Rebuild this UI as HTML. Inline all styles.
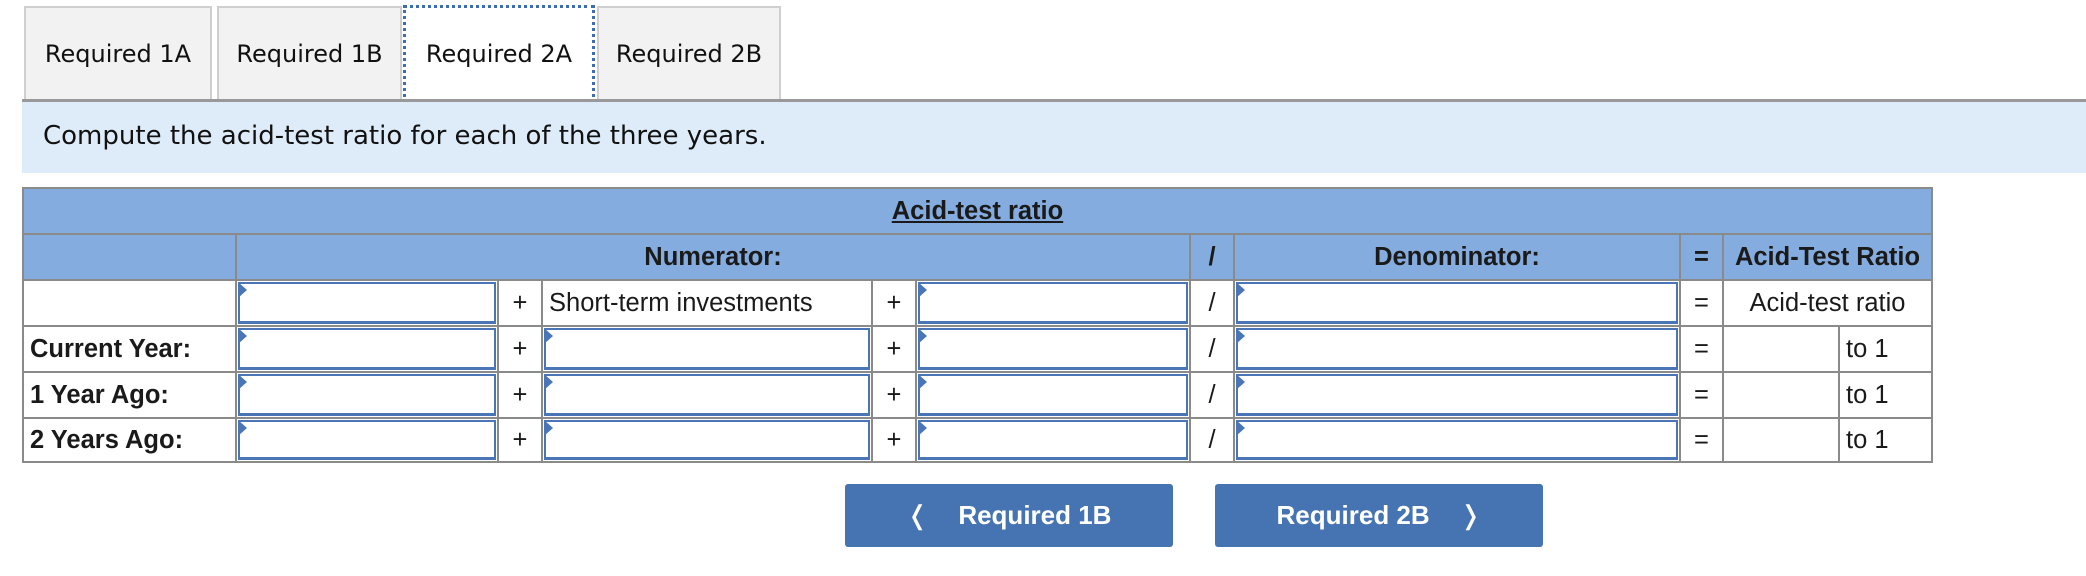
<!DOCTYPE html>
<html><head><meta charset="utf-8">
<style>
*{margin:0;padding:0;box-sizing:border-box}
body{width:2086px;height:576px;background:#fff;position:relative;overflow:hidden;font-family:"Liberation Sans",Arial,sans-serif;color:#1a1a1a}
.a{position:absolute}
.tab{position:absolute;top:6px;height:94px;background:#f2f2f2;border:2px solid #cfcfcf;border-bottom:none;font-family:"DejaVu Sans",Verdana,sans-serif;font-size:24px;display:flex;align-items:center;justify-content:center;color:#111;white-space:nowrap}
.c{position:absolute;background:#fff;font-size:25.5px;display:flex;align-items:center;white-space:nowrap}
.h{background:#84acde;font-weight:bold;justify-content:center}
.ctr{justify-content:center}
.inp{position:absolute;left:1px;top:1px;right:1px;bottom:1px;border:2px solid #4a76b7;border-bottom-width:3px;background:#fff}
.inp:before{content:"";position:absolute;left:-2px;top:-2px;border-left:9px solid #4a76b7;border-top:8px solid transparent;border-bottom:8px solid transparent}
.btn{position:absolute;top:484px;height:63px;width:328px;background:#4674b2;border-radius:3px;color:#fff;font-weight:bold;font-size:26px;display:flex;align-items:center;justify-content:center}
</style></head><body>
<div class="tab" style="left:24px;width:188px">Required 1A</div>
<div class="tab" style="left:217px;width:185px">Required 1B</div>
<div class="tab" style="left:403px;width:192px;background:#fff;border:3px dotted #3d6cb3;height:97px;top:5px">Required 2A</div>
<div class="tab" style="left:597px;width:184px">Required 2B</div>
<div class="a" style="left:22px;top:99px;width:2064px;height:3px;background:#999"></div>
<div class="a" style="left:22px;top:102px;width:2064px;height:71px;background:#deecf9"></div>
<div class="a" style="left:43px;top:121px;font-family:'DejaVu Sans',Verdana,sans-serif;font-size:26px;color:#111;white-space:nowrap">Compute the acid-test ratio for each of the three years.</div>

<div class="a" style="left:22px;top:187px;width:1911px;height:276px;background:#8a8a8a"></div>
<div class="c h" style="left:24px;top:189px;width:1907px;height:44px"><span style="text-decoration:underline">Acid-test ratio</span></div>
<div class="c h" style="left:24px;top:235px;width:211px;height:44px"></div>
<div class="c h" style="left:237px;top:235px;width:952px;height:44px">Numerator:</div>
<div class="c h" style="left:1191px;top:235px;width:42px;height:44px">/</div>
<div class="c h" style="left:1235px;top:235px;width:444px;height:44px">Denominator:</div>
<div class="c h" style="left:1681px;top:235px;width:41px;height:44px">=</div>
<div class="c h" style="left:1724px;top:235px;width:207px;height:44px">Acid-Test Ratio</div>

<div class="c" style="left:24px;top:281px;width:211px;height:44px"></div>
<div class="c" style="left:237px;top:281px;width:260px;height:44px"><div class="inp"></div></div>
<div class="c ctr" style="left:499px;top:281px;width:42px;height:44px">+</div>
<div class="c" style="left:543px;top:281px;width:328px;height:44px;padding-left:6px">Short-term investments</div>
<div class="c ctr" style="left:873px;top:281px;width:42px;height:44px">+</div>
<div class="c" style="left:917px;top:281px;width:272px;height:44px"><div class="inp"></div></div>
<div class="c ctr" style="left:1191px;top:281px;width:42px;height:44px">/</div>
<div class="c" style="left:1235px;top:281px;width:444px;height:44px"><div class="inp"></div></div>
<div class="c ctr" style="left:1681px;top:281px;width:41px;height:44px">=</div>
<div class="c ctr" style="left:1724px;top:281px;width:207px;height:44px">Acid-test ratio</div>

<div class="c" style="left:24px;top:327px;width:211px;height:44px;font-weight:bold;padding-left:6px">Current Year:</div>
<div class="c" style="left:237px;top:327px;width:260px;height:44px"><div class="inp"></div></div>
<div class="c ctr" style="left:499px;top:327px;width:42px;height:44px">+</div>
<div class="c" style="left:543px;top:327px;width:328px;height:44px"><div class="inp"></div></div>
<div class="c ctr" style="left:873px;top:327px;width:42px;height:44px">+</div>
<div class="c" style="left:917px;top:327px;width:272px;height:44px"><div class="inp"></div></div>
<div class="c ctr" style="left:1191px;top:327px;width:42px;height:44px">/</div>
<div class="c" style="left:1235px;top:327px;width:444px;height:44px"><div class="inp"></div></div>
<div class="c ctr" style="left:1681px;top:327px;width:41px;height:44px">=</div>
<div class="c" style="left:1724px;top:327px;width:114px;height:44px"></div>
<div class="c" style="left:1840px;top:327px;width:91px;height:44px;padding-left:6px">to 1</div>

<div class="c" style="left:24px;top:373px;width:211px;height:44px;font-weight:bold;padding-left:6px">1 Year Ago:</div>
<div class="c" style="left:237px;top:373px;width:260px;height:44px"><div class="inp"></div></div>
<div class="c ctr" style="left:499px;top:373px;width:42px;height:44px">+</div>
<div class="c" style="left:543px;top:373px;width:328px;height:44px"><div class="inp"></div></div>
<div class="c ctr" style="left:873px;top:373px;width:42px;height:44px">+</div>
<div class="c" style="left:917px;top:373px;width:272px;height:44px"><div class="inp"></div></div>
<div class="c ctr" style="left:1191px;top:373px;width:42px;height:44px">/</div>
<div class="c" style="left:1235px;top:373px;width:444px;height:44px"><div class="inp"></div></div>
<div class="c ctr" style="left:1681px;top:373px;width:41px;height:44px">=</div>
<div class="c" style="left:1724px;top:373px;width:114px;height:44px"></div>
<div class="c" style="left:1840px;top:373px;width:91px;height:44px;padding-left:6px">to 1</div>

<div class="c" style="left:24px;top:419px;width:211px;height:42px;font-weight:bold;padding-left:6px">2 Years Ago:</div>
<div class="c" style="left:237px;top:419px;width:260px;height:42px"><div class="inp"></div></div>
<div class="c ctr" style="left:499px;top:419px;width:42px;height:42px">+</div>
<div class="c" style="left:543px;top:419px;width:328px;height:42px"><div class="inp"></div></div>
<div class="c ctr" style="left:873px;top:419px;width:42px;height:42px">+</div>
<div class="c" style="left:917px;top:419px;width:272px;height:42px"><div class="inp"></div></div>
<div class="c ctr" style="left:1191px;top:419px;width:42px;height:42px">/</div>
<div class="c" style="left:1235px;top:419px;width:444px;height:42px"><div class="inp"></div></div>
<div class="c ctr" style="left:1681px;top:419px;width:41px;height:42px">=</div>
<div class="c" style="left:1724px;top:419px;width:114px;height:42px"></div>
<div class="c" style="left:1840px;top:419px;width:91px;height:42px;padding-left:6px">to 1</div>

<div class="btn" style="left:845px"><span style="font-weight:normal;margin-right:30px">&#x276C;</span>Required 1B</div>
<div class="btn" style="left:1215px">Required 2B<span style="font-weight:normal;margin-left:30px">&#x276D;</span></div>
</body></html>
